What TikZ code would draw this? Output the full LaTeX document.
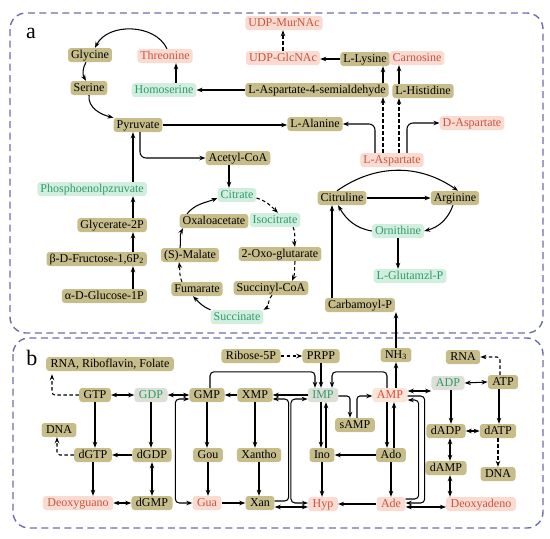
\documentclass[tikz,border=0pt]{standalone}
\usepackage{fontspec}
\setmainfont{Liberation Serif}
\usetikzlibrary{arrows.meta,calc}
\definecolor{olv}{HTML}{C7BD8A}
\definecolor{pkf}{HTML}{FADBD2}
\definecolor{pkt}{HTML}{C8553F}
\definecolor{grf}{HTML}{D2EEDF}
\definecolor{grt}{HTML}{2E9B6A}
\definecolor{gyf}{HTML}{DCDFD6}
\definecolor{brd}{HTML}{6C6EAC}
\definecolor{ampf}{HTML}{FBE4D8}
\definecolor{ampt}{HTML}{E2473A}
\begin{document}
\begin{tikzpicture}[x=1pt,y=1pt,
 box/.style={rounded corners=3pt, inner xsep=3pt, inner ysep=0pt, minimum height=14pt, text height=8.6pt, text depth=2.6pt, font=\fontsize{12}{12}\selectfont},
 bx/.style={box, inner xsep=4.5pt},
 ol/.style={fill=olv, text=black},
 pk/.style={fill=pkf, text=pkt},
 gr/.style={fill=grf, text=grt},
 gy/.style={fill=gyf, text=grt},
 am/.style={fill=ampf, text=ampt},
 arr/.style={-{Stealth[length=6pt,width=4.5pt]}, line width=1.05pt},
 darr/.style={{Stealth[length=6pt,width=4.5pt]}-{Stealth[length=6pt,width=4.5pt]}, line width=1.05pt},
 dsh/.style={dash pattern=on 3.5pt off 2.5pt},
 panel/.style={draw=brd, line width=1.4pt, dash pattern=on 7pt off 4.5pt, rounded corners=16pt}
]
\useasboundingbox (0,0) rectangle (550,-539);
\draw[panel] (10,-13) rectangle (543,-333);
\draw[panel] (13,-338) rectangle (543,-528);
\node[font=\fontsize{22}{22}\selectfont] (la) at (31,-33) {a};
\node[font=\fontsize{22}{22}\selectfont] (lb) at (32,-358) {b};

% ---------- panel a nodes
\node[box,ol] (gly) at (90,-55) {Glycine};
\node[box,pk] (thr) at (165,-56) {Threonine};
\node[box,ol] (ser) at (89,-88) {Serine};
\node[box,gr] (hom) at (164,-90) {Homoserine};
\node[box,ol] (asa) at (317,-90) {L-Aspartate-4-semialdehyde};
\node[box,ol] (pyr) at (138,-125) {Pyruvate};
\node[box,pk] (udpm) at (284,-23) {UDP-MurNAc};
\node[box,pk] (udpg) at (283,-58) {UDP-GlcNAc};
\node[box,ol] (lys) at (365,-59) {L-Lysine};
\node[box,pk] (car) at (417,-58) {Carnosine};
\node[box,ol] (his) at (423,-91) {L-Histidine};
\node[box,ol] (ala) at (315,-124) {L-Alanine};
\node[box,pk] (dasp) at (472,-123) {D-Aspartate};
\node[box,pk] (lasp) at (392,-160) {L-Aspartate};
\node[box,ol] (aco) at (238,-158) {Acetyl-CoA};
\node[box,gr,anchor=east] (pep) at (147,-189) {Phosphoenolpzruvate};
\node[box,ol,anchor=east] (g2p) at (147,-225) {Glycerate-2P};
\node[box,ol,anchor=east] (fru) at (147,-259) {β-D-Fructose-1,6P\textsubscript{2}};
\node[box,ol,anchor=east] (glu) at (147,-296) {α-D-Glucose-1P};
\node[box,gr] (cit) at (237,-195) {Citrate};
\node[box,ol] (oxa) at (214,-221) {Oxaloacetate};
\node[box,gr] (iso) at (275,-220) {Isocitrate};
\node[box,ol] (oxo) at (280,-254) {2-Oxo-glutarate};
\node[box,ol] (scoa) at (271,-288) {Succinyl-CoA};
\node[box,ol] (mal) at (190,-255) {(S)-Malate};
\node[box,ol] (fum) at (197,-289) {Fumarate};
\node[box,gr] (suc) at (237,-317) {Succinate};
\node[box,ol] (citr) at (342,-198) {Citruline};
\node[box,ol] (arg) at (455,-198) {Arginine};
\node[box,gr] (orn) at (398,-231) {Ornithine};
\node[box,gr] (glp) at (410,-276) {L-Glutamzl-P};
\node[box,ol] (cap) at (360,-305) {Carbamoyl-P};

% ---------- panel a connectors
\draw[arr] ([xshift=2pt]thr.north) to[out=115,in=63] ([xshift=5pt]gly.north);
\draw[arr] ([xshift=-4pt]gly.south) to[bend right=30] ([xshift=-3pt]ser.north);
\draw[arr] (ser.south) to[out=-95,in=165] (pyr.north west);
\draw[arr] ([xshift=12pt]hom.north) -- ([xshift=12pt]hom.north |- thr.south);
\draw[arr] (asa.west) -- (asa.west -| hom.east);
\draw[arr] (pyr.east) -- (pyr.east -| ala.west);
\draw[arr,dsh] (udpg.north) -- (udpg.north |- udpm.south);
\draw[arr] (lys.west) -- (lys.west -| udpg.east);
\draw[arr] ([xshift=66pt]asa.north) -- ([xshift=66pt]asa.north |- lys.south);
\draw[arr] ([xshift=-24pt]his.north) -- ([xshift=-24pt]his.north |- car.south);
\draw[arr,dsh] ([xshift=-9pt]lasp.north) -- ([xshift=-9pt]lasp.north |- asa.south);
\draw[arr,dsh] ([xshift=7pt]lasp.north) -- ([xshift=7pt]lasp.north |- his.south);
\draw[arr,rounded corners=6pt] ([xshift=-17pt]lasp.north) |- (ala.east);
\draw[arr,rounded corners=6pt] ([xshift=15pt]lasp.north) |- (dasp.west);
\draw[arr,rounded corners=6pt] ([xshift=2pt]pyr.south) |- (aco.west);
\draw[arr] ([xshift=-14pt]pep.north east) -- ([xshift=-14pt]pep.north east |- pyr.south);
\draw[arr] ([xshift=-14pt]g2p.north east) -- ([xshift=-14pt]g2p.north east |- pep.south);
\draw[arr] ([xshift=-14pt]fru.north east) -- ([xshift=-14pt]fru.north east |- g2p.south);
\draw[arr] ([xshift=-14pt]glu.north east) -- ([xshift=-14pt]glu.north east |- fru.south);
\draw[arr] ([xshift=-9pt]aco.south) -- ([xshift=-9pt]aco.south |- cit.north);
% TCA cycle
\draw[arr] ([xshift=-27pt]oxa.north) to[out=50,in=202] ([yshift=-3pt]cit.west);
\draw[arr,dsh] ([yshift=-3pt]cit.east) to[out=-17,in=136] ([xshift=3pt]iso.north);
\draw[arr,dsh] ([xshift=18pt]iso.south) to[out=-63,in=99] ([xshift=15pt]oxo.north);
\draw[arr,dsh] ([xshift=15pt]oxo.south) to[out=-96,in=66] ([xshift=21pt]scoa.north);
\draw[arr,dsh] ([xshift=1pt]scoa.south) to[out=-135,in=30] (suc.north east);
\draw[arr] (suc.north west) to[out=158,in=-46] ([xshift=-4pt]fum.south);
\draw[arr,dsh] ([xshift=-15pt]fum.north) to[out=115,in=-81] ([xshift=-11pt]mal.south);
\draw[arr] ([xshift=-10pt]mal.north) to[out=82,in=243] ([xshift=-31pt]oxa.south);
% urea cycle
\draw[arr] (citr.east) -- (arg.west);
\draw[arr] ([xshift=-5pt]citr.north) to[out=35,in=145] ([xshift=3pt]arg.north);
\draw[arr] ([xshift=-2pt]arg.south) to[out=-110,in=15] (orn.east);
\draw[arr] (orn.west) to[out=170,in=-60] ([xshift=-4pt]citr.south);
\draw[arr] (orn.south) -- (orn.south |- glp.north);
\draw[arr] ([xshift=-28pt]cap.north) -- ([xshift=-28pt]cap.north |- citr.south);

% ---------- panel b nodes
\node[bx,ol] (rna1) at (110,-364) {RNA, Riboflavin, Folate};
\node[bx,ol] (gtp) at (95,-395) {GTP};
\node[bx,gy] (gdp) at (151,-395) {GDP};
\node[bx,ol] (gmp) at (207,-395) {GMP};
\node[bx,ol] (xmp) at (255,-395) {XMP};
\node[bx,ol] (rib) at (251,-356) {Ribose-5P};
\node[bx,ol] (prpp) at (321,-356) {PRPP};
\node[bx,gy] (imp) at (323,-395) {IMP};
\node[bx,am] (amp) at (390,-395) {AMP};
\node[bx,ol] (nh3) at (396,-355) {NH\textsubscript{3}};
\node[bx,ol] (rna2) at (463,-357) {RNA};
\node[bx,ol] (atp) at (503,-382) {ATP};
\node[bx,gy] (adp) at (448,-383) {ADP};
\node[bx,ol] (samp) at (355,-425) {sAMP};
\node[bx,ol] (ino) at (322,-455) {Ino};
\node[bx,ol] (ado) at (391,-455) {Ado};
\node[bx,pk] (hyp) at (323,-504) {Hyp};
\node[bx,pk] (ade) at (391,-504) {Ade};
\node[bx,pk] (dade) at (481,-504) {Deoxyadeno};
\node[bx,ol] (dadp) at (446,-431) {dADP};
\node[bx,ol] (datp) at (498,-431) {dATP};
\node[bx,ol] (damp) at (446,-468) {dAMP};
\node[bx,ol] (dna2) at (498,-474) {DNA};
\node[bx,ol] (dna1) at (59,-430) {DNA};
\node[bx,ol] (dgtp) at (93,-455) {dGTP};
\node[bx,ol] (dgdp) at (152,-455) {dGDP};
\node[bx,pk] (dguo) at (78,-503) {Deoxyguano};
\node[bx,ol] (dgmp) at (152,-503) {dGMP};
\node[bx,ol] (gou) at (208,-455) {Gou};
\node[bx,ol] (xtho) at (259,-455) {Xantho};
\node[bx,pk] (gua) at (207,-503) {Gua};
\node[bx,ol] (xan) at (260,-503) {Xan};

% ---------- panel b connectors
\draw[arr,dsh] (rib.east) -- (prpp.west);
\draw[arr] (prpp.south) -- (prpp.south |- imp.north);
\draw[arr,rounded corners=4pt] ([xshift=3pt]gmp.north) |- ($(imp.north)+(-8,16)$) -- ([xshift=-8pt]imp.north);
\draw[arr,rounded corners=4pt] ([xshift=-3pt]amp.north) |- ($(imp.north)+(9,16)$) -- ([xshift=9pt]imp.north);
\draw[arr] ([xshift=6pt]amp.north) -- ([xshift=6pt]amp.north |- nh3.south);
\draw[arr] (nh3.north) -- (nh3.north |- cap.south);
\draw[arr] (imp.west) -- (imp.west -| xmp.east);
\draw[arr] (xmp.west) -- (gmp.east);
\draw[darr] (gmp.west) -- (gdp.east);
\draw[darr] (gtp.east) -- (gdp.west);
\draw[darr,rounded corners=4pt] ([yshift=-4pt]gmp.west) -- ++(-14,0) |- (gua.west);
\draw[arr,rounded corners=4pt] ([yshift=2pt]xan.east) -- ++(14,0) |- ([yshift=-4pt]xmp.east);
\draw[darr,rounded corners=4pt] ([yshift=1pt]hyp.west) -- ++(-17,0) |- ([yshift=-4pt]imp.west);
\draw[darr] ([yshift=-4pt]xan.east) -- ([yshift=-4pt]xan.east -| hyp.west);
\draw[arr] (gua.east) -- (xan.west);
\draw[arr] (gmp.south) -- (gmp.south |- gou.north);
\draw[arr] (xmp.south) -- (xmp.south |- xtho.north);
\draw[arr] (gou.south) -- (gou.south |- gua.north);
\draw[arr] (xtho.south) -- (xtho.south |- xan.north);
\draw[arr] (gtp.south) -- (gtp.south |- dgtp.north);
\draw[arr] (gdp.south) -- (gdp.south |- dgdp.north);
\draw[arr] (dgdp.west) -- (dgtp.east);
\draw[arr,dsh,rounded corners=3pt] (dgtp.west) -| ([xshift=-2pt]dna1.south);
\draw[arr,dsh,rounded corners=3pt,shorten >=3pt] (gtp.west) -| ([xshift=-58pt]rna1.south);
\draw[arr] (dgtp.south) -- (dgtp.south |- dguo.north);
\draw[darr] (dguo.east) -- (dgmp.west);
\draw[darr] (dgdp.south) -- (dgmp.north);
\draw[arr,rounded corners=3pt] ([yshift=-1pt]imp.east) -| ([xshift=-5pt]samp.north);
\draw[arr,rounded corners=3pt] ([xshift=2pt]samp.north) |- ([yshift=-1pt]amp.west);
\draw[arr] ([xshift=-2pt]imp.south) -- ([xshift=-2pt]imp.south |- ino.north);
\draw[arr] ([xshift=4pt]ino.north) -- ([xshift=4pt]ino.north |- imp.south);
\draw[arr] ([xshift=-3pt]amp.south) -- ([xshift=-3pt]amp.south |- ado.north);
\draw[arr] ([xshift=3pt]ado.north) -- ([xshift=3pt]ado.north |- amp.south);
\draw[arr] (ado.west) -- (ino.east);
\draw[arr] (ino.south) -- (ino.south |- hyp.north);
\draw[arr] (ado.south) -- (ado.south |- ade.north);
\draw[arr] (ade.west) -- (hyp.east);
\draw[darr] ([yshift=-3pt]ade.east) -- ([yshift=-3pt]ade.east -| dade.west);
\draw[arr,rounded corners=4pt] ([yshift=-1pt]amp.east) -- ++(17,0) |- ([yshift=1pt]ade.east);
\draw[arr,rounded corners=4pt] ([yshift=5pt]ade.east) -- ++(13,0) |- ([yshift=-5pt]amp.east);
\draw[darr] ([yshift=4pt]amp.east) -- ([yshift=4pt]amp.east -| adp.west);
\draw[darr] (adp.east) -- (atp.west);
\draw[arr,dsh,rounded corners=3pt] ([xshift=-3pt]atp.north) |- (rna2.east);
\draw[arr] ([xshift=3pt]adp.south) -- ([xshift=3pt]adp.south |- dadp.north);
\draw[arr] ([xshift=-4pt]atp.south) -- ([xshift=-4pt]atp.south |- datp.north);
\draw[darr] (dadp.east) -- (datp.west);
\draw[arr,dsh] (datp.south) -- (datp.south |- dna2.north);
\draw[darr] ([xshift=4pt]dadp.south) -- ([xshift=4pt]dadp.south |- damp.north);
\draw[darr] ([xshift=4pt]damp.south) -- ([xshift=4pt]damp.south |- dade.north);
\end{tikzpicture}
\end{document}
